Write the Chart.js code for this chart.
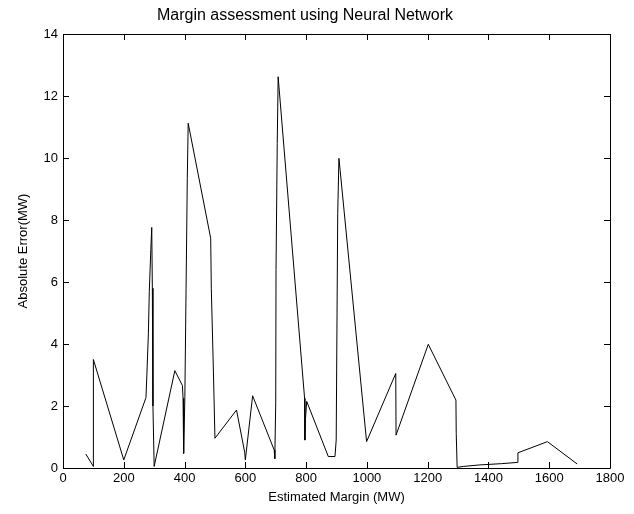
<!DOCTYPE html>
<html lang="en">
<head>
  <meta charset="UTF-8">
  <title>Margin assessment using Neural Network</title>
  <style>
    body {
      margin: 0;
      padding: 0;
      background: #fff;
    }
    #chart {
      display: block;
    }
  </style>
</head>
<body>
  <canvas id="chart" width="634" height="514"></canvas>

  <script src="https://cdn.jsdelivr.net/npm/chart.js"></script>
  <script>
    // values
    const marginMW = [75, 100, 100, 200, 273, 276, 281, 284, 289, 292, 294, 296, 300,
      368, 393, 395, 396, 398, 401, 405, 409, 412, 486, 488, 495, 500, 571, 598, 600, 624,
      695, 697, 700, 701, 705, 708, 795, 796, 798, 802, 873, 895, 899, 904, 908, 912,
      999, 1095, 1096, 1202, 1293, 1294, 1297, 1317, 1372, 1443, 1495, 1497, 1594, 1692];
    const errorMW = [0.45, 0.05, 3.5, 0.26, 2.27, 3.0, 4.35, 5.7, 7.05, 7.76, 5.8, 2.0, 0.05,
      3.14, 2.66, 2.25, 1.55, 0.47, 2.3, 5.8, 9.34, 11.12, 7.41, 5.8, 3.1, 0.96, 1.87, 0.5, 0.26, 2.33,
      0.58, 0.3, 2.1, 6.4, 10.47, 12.62, 2.25, 0.9, 1.6, 2.15, 0.37, 0.37, 0.9, 8.2, 9.99, 9.6,
      0.85, 3.05, 1.06, 3.99, 2.19, 1.12, 0.02, 0.05, 0.1, 0.14, 0.18, 0.49, 0.85, 0.13];

    const xTicks = [0, 200, 400, 600, 800, 1000, 1200, 1400, 1600, 1800];
    const yTicks = [0, 2, 4, 6, 8, 10, 12, 14];

    const fontFamily = "'Liberation Sans', Arial, sans-serif";

    const points = marginMW.map((m, i) => ({ x: m, y: errorMW[i] }));

    // matlab style box with ticks pointing inwards
    const boxPlugin = {
      id: 'box',
      afterDraw(chart) {
        const ctx = chart.ctx;
        const a = chart.chartArea;
        const xs = chart.scales.x;
        const ys = chart.scales.y;
        const len = 6;
        ctx.save();
        ctx.strokeStyle = '#000';
        ctx.lineWidth = 1;
        ctx.beginPath();
        ctx.rect(Math.round(a.left) + 0.5, Math.round(a.top) + 0.5,
          Math.round(a.right - a.left), Math.round(a.bottom - a.top));
        xTicks.forEach(v => {
          const px = Math.round(xs.getPixelForValue(v)) + 0.5;
          ctx.moveTo(px, a.bottom);
          ctx.lineTo(px, a.bottom - len);
          ctx.moveTo(px, a.top);
          ctx.lineTo(px, a.top + len);
        });
        yTicks.forEach(v => {
          const py = Math.round(ys.getPixelForValue(v)) + 0.5;
          ctx.moveTo(a.left, py);
          ctx.lineTo(a.left + len, py);
          ctx.moveTo(a.right, py);
          ctx.lineTo(a.right - len, py);
        });
        ctx.stroke();
        ctx.restore();
      }
    };

    new Chart(document.getElementById('chart').getContext('2d'), {
      type: 'scatter',
      data: {
        datasets: [{
          data: points,
          showLine: true,
          borderColor: '#000',
          borderWidth: 1,
          pointRadius: 0,
          tension: 0
        }]
      },
      options: {
        responsive: false,
        animation: false,
        layout: { padding: { left: 0, right: 24, top: 0, bottom: 0 } },
        plugins: {
          legend: { display: false },
          tooltip: { enabled: false },
          title: {
            display: true,
            text: 'Margin assessment using Neural Network',
            color: '#000',
            font: { family: fontFamily, size: 16, weight: 'normal' },
            padding: { top: 6, bottom: 8.8 }
          }
        },
        scales: {
          x: {
            type: 'linear',
            min: 0,
            max: 1800,
            afterBuildTicks: s => { s.ticks = xTicks.map(v => ({ value: v })); },
            afterFit: s => { s.height = 46; },
            ticks: {
              color: '#000',
              padding: 3,
              maxRotation: 0,
              callback: v => String(v),
              font: { family: fontFamily, size: 13 }
            },
            grid: { display: false, drawTicks: false },
            border: { display: false },
            title: {
              display: true,
              text: 'Estimated Margin (MW)',
              color: '#000',
              font: { family: fontFamily, size: 13 },
              padding: { top: 0, bottom: 9 }
            }
          },
          y: {
            type: 'linear',
            min: 0,
            max: 14,
            afterBuildTicks: s => { s.ticks = yTicks.map(v => ({ value: v })); },
            afterFit: s => { s.width = 63; },
            ticks: {
              color: '#000',
              padding: 5,
              callback: v => String(v),
              font: { family: fontFamily, size: 13 }
            },
            grid: { display: false, drawTicks: false },
            border: { display: false },
            title: {
              display: true,
              text: 'Absolute Error(MW)',
              color: '#000',
              font: { family: fontFamily, size: 13 },
              padding: { top: 16, bottom: 0 }
            }
          }
        }
      },
      plugins: [boxPlugin]
    });
  </script>
</body>
</html>
